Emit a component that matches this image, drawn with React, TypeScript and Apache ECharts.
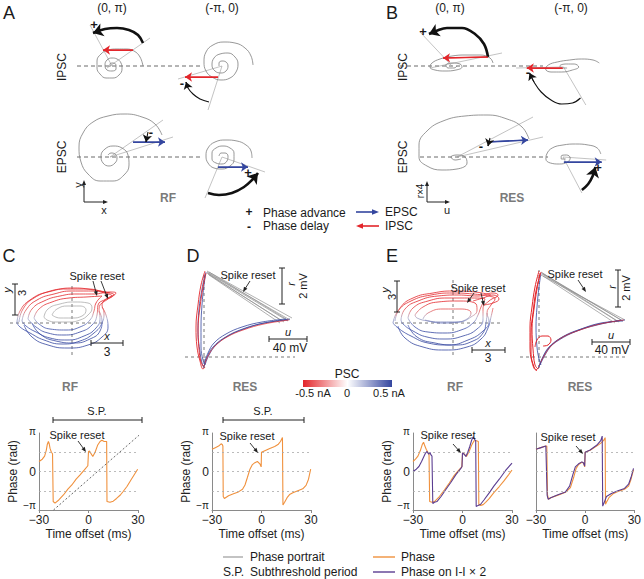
import React, { useEffect, useRef } from "react";
import * as echarts from "echarts";

type P = [number, number];

const FONT = '"Liberation Sans", Arial, Helvetica, sans-serif';
const ORANGE = "#f0913d";
const PURPLE = "#5b3d91";
const RED = "#e3262b";
const BLUE = "#34469f";
const SPIRAL = "#7d7d7d";

// ===== Bottom row: phase (units of π) vs time offset (ms) =====
const TIME_TICKS = [-30, 0, 30];
const GUIDE_LEVELS = [-0.5, 0, 0.5];
const C_PHASE: P[] = [[-30,0.26],[-28,0.32],[-26.6,0.4],[-25.6,0.55],[-25,0.7],[-24.3,0.78],[-23.8,0.72],[-23.3,0.6],[-22.5,0.5],[-21.8,0.46],[-21.4,-0.78],[-20.3,-0.82],[-18,-0.74],[-15.2,-0.61],[-12.5,-0.46],[-10.1,-0.35],[-7.5,-0.2],[-5.1,-0.09],[-2.5,0.04],[-0.4,0.15],[0,0.52],[0.6,0.53],[2.6,0.39],[4,0.5],[5.5,0.68],[7,0.78],[8.1,0.81],[9.5,0.78],[11,0.78],[11.2,-0.78],[13,-0.8],[15,-0.77],[17,-0.7],[19.3,-0.61],[21,-0.52],[23.3,-0.39],[26,-0.2],[29.8,0.06]];
const C_DIAGONAL: P[] = [[-21.2,-1],[32.7,1.02]];
const D_PHASE: P[] = [[-30,0.58],[-28,0.62],[-26,0.66],[-24.5,0.72],[-23.8,0.7],[-23.4,0.66],[-23.2,-0.65],[-22.5,-0.7],[-20,-0.63],[-17,-0.58],[-14,-0.53],[-11.5,-0.46],[-10,-0.35],[-8.5,-0.15],[-7,0.06],[-5.5,0.18],[-4,0.23],[-2.5,0.26],[-1,0.2],[-0.2,0.12],[0,0.5],[2,0.54],[5,0.6],[8,0.65],[10,0.7],[11.5,0.78],[12.7,0.88],[13,-0.87],[14,-0.8],[15.5,-0.68],[17,-0.6],[19,-0.55],[22,-0.5],[25,-0.45],[27,-0.36],[28.5,-0.2],[29.8,0.06]];
const E_RF_PHASE: P[] = [[-30,0.26],[-28.5,0.32],[-27,0.4],[-25.5,0.55],[-24.4,0.7],[-23.6,0.76],[-22.8,0.66],[-22,0.58],[-21,0.5],[-20.3,0.46],[-19.9,-0.78],[-18.5,-0.8],[-17,-0.78],[-14,-0.65],[-11,-0.48],[-8,-0.3],[-5,-0.1],[-2,0.05],[-0.4,0.12],[0,0.48],[1,0.46],[2.4,0.39],[4,0.52],[5.5,0.68],[7,0.8],[8.5,0.8],[9.6,0.78],[9.9,-0.86],[11,-0.88],[12.5,-0.86],[14,-0.8],[16.3,-0.7],[19,-0.55],[22.3,-0.39],[25,-0.25],[28,-0.08],[30,0.04]];
const E_RF_PHASE_2X: P[] = [[-30,0],[-28,0.06],[-26.4,0.13],[-24.8,0.26],[-23.4,0.39],[-22.4,0.48],[-21.5,0.52],[-20.5,0.45],[-19.8,0.5],[-19.1,0.43],[-18.5,0.4],[-18,-0.83],[-17,-0.8],[-15.5,-0.78],[-13,-0.65],[-10,-0.46],[-7,-0.28],[-4,-0.08],[-1,0.08],[-0.3,0.13],[0,0.48],[1,0.45],[2,0.39],[3.2,0.5],[4.4,0.65],[5.6,0.82],[6.4,0.9],[7.4,0.83],[8,0.8],[8.3,-0.91],[9.5,-0.88],[11,-0.85],[13,-0.74],[16.3,-0.55],[19,-0.38],[22.3,-0.2],[26,0.02],[30,0.22]];
const E_RES_PHASE: P[] = [[-30,0.58],[-27,0.62],[-24,0.66],[-23.4,0.66],[-23,-0.6],[-22.4,-0.72],[-21,-0.68],[-17,-0.62],[-12,-0.54],[-9,-0.42],[-7,-0.15],[-5.5,0.08],[-4,0.18],[-2,0.24],[-1,0.22],[-0.3,0.12],[0,0.5],[3,0.55],[7,0.66],[10,0.75],[11.5,0.82],[12.2,0.88],[12.4,-0.85],[13,-0.8],[14.5,-0.68],[17,-0.58],[20,-0.52],[24,-0.46],[26.5,-0.38],[28,-0.2],[29.5,0.05]];
const E_RES_PHASE_2X: P[] = [[-30,0.58],[-27,0.62],[-24,0.66],[-23.6,0.66],[-23.2,-0.62],[-22.6,-0.72],[-21,-0.68],[-17,-0.61],[-12,-0.53],[-9.5,-0.38],[-7.5,-0.08],[-6,0.12],[-4,0.2],[-2,0.25],[-1,0.22],[-0.3,0.14],[0,0.5],[3,0.56],[7,0.68],[9.5,0.8],[10.4,0.92],[10.7,-0.9],[11.5,-0.82],[13,-0.65],[16,-0.57],[20,-0.5],[24,-0.44],[26.5,-0.33],[28,-0.15],[29.5,0.08]];

// ===== Phase portraits (panel units, origin at dashed-line crossing, y up) =====
const C_LOOPS: P[][] = [
  [[-55,0],[-52,12],[-42,23],[-25,31],[-5,34],[15,34],[32,31],[42,28],[36,24],[30,18],[32,10],[30,0],[22,-10],[8,-18],[-10,-21],[-28,-17],[-42,-10],[-52,-4],[-55,0]],
  [[-50,2],[-46,13],[-35,23],[-18,29],[0,32],[20,32],[36,29],[40,27],[32,22],[27,14],[28,5],[24,-5],[12,-13],[-5,-17],[-22,-15],[-36,-9],[-46,-3],[-50,2]],
  [[-44,4],[-40,14],[-28,22],[-12,27],[5,29],[22,29],[38,31],[44,30],[34,24],[26,18],[25,8],[20,-2],[8,-9],[-8,-12],[-24,-10],[-36,-4],[-44,4]],
  [[-38,5],[-33,14],[-20,21],[-3,25],[14,26],[30,27],[24,20],[22,12],[18,3],[8,-4],[-6,-7],[-22,-6],[-33,-1],[-38,5]],
  [[-48,-2],[-40,-14],[-24,-22],[-4,-25],[16,-22],[30,-14],[36,-4],[34,8],[30,16]],
  [[-40,0],[-32,-11],[-16,-18],[2,-20],[18,-16],[28,-8],[30,2],[27,12]],
  [[-53,1],[-49,14],[-38,25],[-20,32],[2,35],[22,33],[38,30]],
];
const C_GRAY_LOOPS: P[][] = [
  [[-28,6],[-24,14],[-12,19],[3,21],[16,20],[20,15],[16,8],[8,3],[-4,1],[-16,1],[-25,3],[-28,6]],
  [[-20,8],[-15,14],[-4,17],[8,17],[14,13],[10,7],[0,5],[-12,5],[-20,8]],
];
const D_LEFT_RED: P[][] = [
  [[1,86],[-3,72],[-6,52],[-8,30],[-7,10],[-4,-4],[-1,-12],[1,-10]],
  [[2,84],[-1,70],[-4,50],[-6,28],[-5,8],[-3,-5],[0,-10]],
];
const D_LEFT_BLUE: P[][] = [
  [[2,85],[0,72],[-2,52],[-3,30],[-3,10],[-1,-3],[1,-8]],
  [[1,83],[-2,68],[-5,48],[-6,25],[-4,5],[-2,-6],[0,-11]],
];
const D_LOWER_BLUE: P[][] = [
  [[0,-10],[3,0],[9,10],[20,19],[36,27],[56,33],[86,38]],
  [[1,-8],[5,2],[12,12],[24,21],[40,28],[60,34],[84,37]],
  [[0,-7],[4,4],[10,14],[22,23],[38,30],[58,35],[82,38]],
];
const D_LOWER_RED: P[][] = [
  [[0,-9],[4,1],[11,11],[23,20],[39,27],[60,33],[85,37]],
];
const D_RESET: P[][] = [
  [[88,39],[3,86]],[[86,37],[3,85]],[[84,36],[4,84]],[[82,38],[5,85]],[[80,35],[4,83]],[[78,36],[3,84]],[[76,34],[5,82]],
];
const E_LOOPS: P[][] = [
  [[-60,0],[-55,12],[-42,22],[-22,28],[0,30],[20,29],[35,27],[42,24],[38,18],[34,10],[36,2],[30,-8],[15,-17],[-5,-22],[-25,-20],[-42,-13],[-55,-5],[-60,0]],
  [[-52,3],[-48,14],[-35,22],[-15,27],[5,28],[25,27],[40,30],[45,28],[36,22],[30,14],[30,4],[24,-6],[10,-13],[-8,-16],[-26,-14],[-40,-8],[-50,-1],[-52,3]],
  [[-45,5],[-40,15],[-25,22],[-5,25],[15,25],[32,24],[28,16],[25,8],[20,0],[8,-7],[-8,-10],[-25,-9],[-38,-4],[-45,5]],
  [[-38,8],[-30,16],[-15,21],[5,22],[22,20],[24,13],[18,6],[6,1],[-10,0],[-25,2],[-36,5],[-38,8]],
  [[-55,-3],[-48,-15],[-30,-24],[-8,-27],[14,-24],[28,-16],[35,-5],[38,6],[40,15]],
  [[-45,-2],[-36,-14],[-18,-20],[2,-22],[20,-18],[30,-10],[33,0],[34,10]],
  [[-30,4],[-25,10],[-10,14],[8,14],[18,10],[14,4],[2,1],[-15,1],[-28,3]],
  [[20,22],[30,25],[40,28],[46,24],[40,20],[30,18]],
  [[-58,2],[-53,15],[-40,25],[-20,30],[0,32],[22,31],[38,28]],
];
const ER_LEFT_RED: P[][] = [
  [[0,86],[-4,70],[-7,50],[-9,30],[-9,10],[-7,-5],[-3,-13],[0,-10]],
  [[1,84],[-2,68],[-5,48],[-7,28],[-6,8],[-4,-8],[-1,-12]],
  [[2,85],[-3,66],[-6,44],[-8,24],[-8,4],[-5,-10],[-2,-14]],
  [[-4,10],[-2,17],[3,21],[9,21],[12,17],[9,12],[4,11]],
];
const ER_LEFT_BLUE: P[][] = [
  [[2,84],[0,70],[-2,50],[-3,30],[-2,10],[0,-2],[2,-8]],
];
const ER_LOWER_BLUE: P[][] = [
  [[0,-10],[4,0],[10,10],[22,19],[40,27],[60,33],[86,37]],
  [[1,-8],[6,2],[13,12],[25,21],[42,28],[62,34],[84,36]],
  [[-1,-12],[3,-2],[9,8],[20,17],[38,26],[58,32],[82,37]],
];
const ER_LOWER_RED: P[][] = [
  [[0,-9],[5,1],[12,11],[24,20],[41,27],[61,33],[85,37]],
];
const ER_RESET: P[][] = [
  [[86,37],[2,82]],[[84,36],[3,84]],[[82,37],[4,83]],[[80,35],[2,85]],[[78,36],[3,83]],[[76,34],[4,81]],
];

// ===== Panels A / B schematics (offsets from the fixed point, y up) =====
const A_IPSC_0PI_SPIRAL: P[] = [[31,0],[28,9],[22,15],[14,17],[5,17],[-4,16],[-11,12],[-15,5],[-15,-2],[-12,-8],[-6,-12],[1,-12],[7,-9],[10,-3],[9,3],[5,7],[0,8],[-5,6],[-7,1],[-5,-4],[0,-5],[4,-3],[4,1],[1,3],[-2,2],[-2,-1]];
const A_IPSC_0PI_RAYS: P[][] = [[[-5,-2],[38,28]],[[0,0],[-22,41]]];
const A_IPSC_0PI_PSC: P[] = [[21,16],[-9,16]];
const A_IPSC_0PI_TURN: P[] = [[31,23],[26,31],[17,36],[5,38],[-7,37],[-19,33]];
const A_IPSC_PI0_SPIRAL: P[] = [[31,1],[29,10],[23,18],[13,23],[2,24],[-9,21],[-16,14],[-18,4],[-16,-5],[-10,-11],[-1,-14],[8,-12],[14,-6],[16,2],[13,9],[6,13],[-2,12],[-8,8],[-10,1],[-7,-5],[-1,-7],[4,-5],[6,0],[4,4],[0,5],[-3,3],[-3,0]];
const A_IPSC_PI0_RAYS: P[][] = [[[0,0],[-44,-13]],[[0,0],[-14,-44]]];
const A_IPSC_PI0_PSC: P[] = [[-4,-11],[-37,-11]];
const A_IPSC_PI0_TURN: P[] = [[-13,-36],[-22,-33],[-29,-28],[-34,-22],[-36,-16]];
const A_EPSC_0PI_SPIRAL: P[] = [[52,22],[45,33],[32,40],[15,43],[-2,41],[-17,35],[-27,24],[-31,10],[-29,-5],[-22,-17],[-10,-24],[3,-24],[14,-18],[19,-8],[18,2],[12,9],[3,11],[-5,8],[-9,1],[-7,-6],[-1,-9],[5,-6],[7,-1],[5,3],[1,4],[-2,2]];
const A_EPSC_0PI_RAYS: P[][] = [[[0,0],[53,37]],[[0,0],[63,20]]];
const A_EPSC_0PI_PSC: P[] = [[23,15],[55,15]];
const A_EPSC_0PI_TURN: P[] = [[38,25],[37,20],[36,15]];
const A_EPSC_PI0_SPIRAL: P[] = [[30,-1],[29,6],[24,12],[15,16],[4,17],[-7,15],[-14,9],[-16,1],[-14,-6],[-8,-11],[0,-12],[8,-9],[12,-3],[12,4],[8,9],[1,11],[-6,9],[-10,4],[-10,-2],[-6,-6],[0,-7],[5,-4],[6,1],[3,4],[-1,4],[-3,1]];
const A_EPSC_PI0_RAYS: P[][] = [[[0,0],[43,-15]],[[0,0],[-17,-41]]];
const A_EPSC_PI0_PSC: P[] = [[-4,-10],[26,-10]];
const A_EPSC_PI0_TURN: P[] = [[-14,-36],[-3,-38],[10,-36],[22,-30],[31,-22],[36,-16]];
const B_IPSC_0PI_SPIRAL: P[] = [[41,3],[38,8],[28,11],[14,11],[0,10],[-12,7],[-20,3],[-22,-1],[-17,-4],[-7,-5],[4,-4],[10,-1],[8,2],[0,3],[-6,1],[-4,-2],[2,-2],[5,0]];
const B_IPSC_0PI_RAYS: P[][] = [[[-22,-2],[50,13]],[[0,0],[-32,34]]];
const B_IPSC_0PI_PSC: P[] = [[36,9],[-9,8]];
const B_IPSC_0PI_TURN: P[] = [[36,9],[32,22],[23,32],[10,38],[-5,38],[-16,35],[-23,32]];
const B_IPSC_PI0_SPIRAL: P[] = [[40,4],[33,7],[20,8],[7,7],[-7,5],[-17,2],[-20,-2],[-14,-5],[-2,-5],[10,-3],[17,0],[12,3],[3,3],[-4,1],[-2,-1],[4,-1]];
const B_IPSC_PI0_RAYS: P[][] = [[[0,0],[25,-38]],[[0,0],[-53,-1]]];
const B_IPSC_PI0_PSC: P[] = [[-1,-1],[-41,-1]];
const B_IPSC_PI0_TURN: P[] = [[19,-31],[10,-36],[-2,-37],[-14,-33],[-25,-25],[-33,-15],[-38,-6]];
const B_EPSC_0PI_SPIRAL: P[] = [[72,18],[65,30],[50,38],[30,42],[8,41],[-14,36],[-30,26],[-38,12],[-38,0],[-30,-9],[-15,-13],[0,-12],[10,-6],[8,0],[0,2],[-6,0],[-2,-3],[4,-2]];
const B_EPSC_0PI_RAYS: P[][] = [[[0,0],[76,40]],[[0,0],[86,20]]];
const B_EPSC_0PI_PSC: P[] = [[30,15],[71,17]];
const B_EPSC_0PI_TURN: P[] = [[33,19],[32,15],[31,11]];
const B_EPSC_PI0_SPIRAL: P[] = [[42,3],[38,9],[28,12],[14,13],[0,12],[-12,9],[-18,3],[-19,-2],[-14,-6],[-4,-7],[5,-5],[8,-1],[4,2],[-2,1],[-2,-2],[3,-2]];
const B_EPSC_PI0_RAYS: P[][] = [[[0,0],[21,-36]],[[0,0],[48,-3]]];
const B_EPSC_PI0_PSC: P[] = [[1,-5],[43,-5]];
const B_EPSC_PI0_TURN: P[] = [[21,-33],[28,-27],[33,-19],[36,-10]];

function buildOption() {
  const grid: any[] = [];
  const xAxis: any[] = [];
  const yAxis: any[] = [];
  const series: any[] = [];
  const visualMap: any[] = [];
  const graphic: any[] = [];

  const hiddenGrid = (left: number, top: number, w: number, h: number, x0: number, x1: number, y0: number, y1: number) => {
    const i = grid.length;
    grid.push({ left, top, width: w, height: h, containLabel: false });
    xAxis.push({ type: "value", gridIndex: i, min: x0, max: x1, show: false });
    yAxis.push({ type: "value", gridIndex: i, min: y0, max: y1, show: false });
    return i;
  };
  const line = (gi: number, data: P[], color: string | null, width = 0.8, o: any = {}) => {
    const lineStyle: any = { width, type: o.dash || "solid" };
    if (color) lineStyle.color = color;
    series.push({
      type: "line", xAxisIndex: gi, yAxisIndex: gi, data, symbol: "none", showSymbol: false,
      silent: true, smooth: o.smooth ?? 0.35, clip: o.clip ?? true,
      lineStyle, z: o.z ?? 2,
    });
    return series.length - 1;
  };
  const head = (gi: number, a: P, b: P, color: string, size: number) => {
    series.push({
      type: "lines", coordinateSystem: "cartesian2d", xAxisIndex: gi, yAxisIndex: gi, silent: true,
      symbol: ["none", "arrow"], symbolSize: size, lineStyle: { color, width: 1, opacity: 1 },
      data: [{ coords: [a, b] }], z: 4,
    });
  };
  const arrowPath = (gi: number, pts: P[], color: string, width: number, size: number) => {
    line(gi, pts, color, width, { smooth: 0.4, z: 3 });
    head(gi, pts[pts.length - 2], pts[pts.length - 1], color, size);
  };

  // ---- schematic panels A/B
  const schematic = (cx: number, cy: number, spiral: P[], rays: P[][], psc: P[], pscColor: string, turn: P[], turnW: number, dash?: P) => {
    const g = hiddenGrid(cx - 90, cy - 55, 180, 110, -90, 90, -55, 55);
    if (dash) line(g, [[dash[0], 0], [dash[1], 0]], "#444", 0.8, { dash: [4, 3], clip: false, smooth: false });
    rays.forEach((r) => line(g, r, "#9a9a9a", 0.6, { smooth: false }));
    line(g, spiral, SPIRAL, 0.8, { smooth: 0.45 });
    arrowPath(g, psc, pscColor, 1.6, 7);
    arrowPath(g, turn, "#111", turnW, turnW > 1.5 ? 10 : 7);
  };
  schematic(112, 66, A_IPSC_0PI_SPIRAL, A_IPSC_0PI_RAYS, A_IPSC_0PI_PSC, RED, A_IPSC_0PI_TURN, 2.6, [-35, 156]);
  schematic(222, 66, A_IPSC_PI0_SPIRAL, A_IPSC_PI0_RAYS, A_IPSC_PI0_PSC, RED, A_IPSC_PI0_TURN, 1.1);
  schematic(110, 157, A_EPSC_0PI_SPIRAL, A_EPSC_0PI_RAYS, A_EPSC_0PI_PSC, BLUE, A_EPSC_0PI_TURN, 1.1, [-33, 158]);
  schematic(222, 157, A_EPSC_PI0_SPIRAL, A_EPSC_PI0_RAYS, A_EPSC_PI0_PSC, BLUE, A_EPSC_PI0_TURN, 2.6);
  schematic(452, 66, B_IPSC_0PI_SPIRAL, B_IPSC_0PI_RAYS, B_IPSC_0PI_PSC, RED, B_IPSC_0PI_TURN, 2.6, [-52, 170]);
  schematic(573, 67, B_IPSC_PI0_SPIRAL, B_IPSC_PI0_RAYS, B_IPSC_PI0_PSC, RED, B_IPSC_PI0_TURN, 1.1);
  schematic(457, 157, B_EPSC_0PI_SPIRAL, B_EPSC_0PI_RAYS, B_EPSC_0PI_PSC, BLUE, B_EPSC_0PI_TURN, 1.1, [-37, 165]);
  schematic(572, 157, B_EPSC_PI0_SPIRAL, B_EPSC_PI0_RAYS, B_EPSC_PI0_PSC, BLUE, B_EPSC_PI0_TURN, 2.6);

  // ---- phase portraits
  const dashCross = (g: number, xr: P, yr: P) => {
    line(g, [[xr[0], 0], [xr[1], 0]], "#555", 0.8, { dash: [3, 3], smooth: false, z: 1 });
    line(g, [[0, yr[0]], [0, yr[1]]], "#555", 0.8, { dash: [3, 3], smooth: false, z: 1 });
  };
  const rfPortrait = (g: number, loops: P[][], grays: P[][]) => {
    const idx: number[] = [];
    grays.forEach((l) => line(g, l, "#a0a0a0", 0.7, { smooth: 0.5 }));
    loops.forEach((l) => idx.push(line(g, l, null, 0.8, { smooth: 0.5 })));
    visualMap.push({
      type: "continuous", show: false, dimension: 1, seriesIndex: idx, min: -10, max: 20,
      inRange: { color: [BLUE, "#4a5cb2", "#a9a9c6", "#e45a5a", RED] },
    });
  };
  // C (RF)
  const gC = hiddenGrid(8, 268, 115, 95, -64, 51, -40, 55);
  dashCross(gC, [-62, 33], [-32, 40]);
  rfPortrait(gC, C_LOOPS, C_GRAY_LOOPS);
  // D (RES)
  const gD = hiddenGrid(176, 262, 124, 112, -28, 96, -17, 95);
  dashCross(gD, [-19, 91], [-11, 85]);
  D_RESET.forEach((l) => line(gD, l, "#8f8f8f", 0.7, { smooth: false }));
  D_LOWER_BLUE.forEach((l) => line(gD, l, BLUE, 0.8, { smooth: 0.4 }));
  D_LOWER_RED.forEach((l) => line(gD, l, RED, 0.7, { smooth: 0.4 }));
  D_LEFT_BLUE.forEach((l) => line(gD, l, BLUE, 0.8, { smooth: 0.4 }));
  D_LEFT_RED.forEach((l) => line(gD, l, RED, 0.9, { smooth: 0.4 }));
  // E (RF)
  const gE1 = hiddenGrid(388, 272, 115, 85, -65, 50, -34, 51);
  dashCross(gE1, [-58, 47], [-32, 45]);
  rfPortrait(gE1, E_LOOPS, []);
  // E (RES)
  const gE2 = hiddenGrid(512, 262, 120, 112, -27, 93, -17, 95);
  dashCross(gE2, [-19, 86], [-11, 87]);
  ER_RESET.forEach((l) => line(gE2, l, "#8f8f8f", 0.7, { smooth: false }));
  ER_LOWER_BLUE.forEach((l) => line(gE2, l, BLUE, 0.8, { smooth: 0.4 }));
  ER_LOWER_RED.forEach((l) => line(gE2, l, RED, 0.7, { smooth: 0.4 }));
  ER_LEFT_BLUE.forEach((l) => line(gE2, l, BLUE, 0.8, { smooth: 0.4 }));
  ER_LEFT_RED.forEach((l) => line(gE2, l, RED, 1, { smooth: 0.4 }));

  // ---- bottom phase plots
  const phasePlot = (left: number, showY: boolean, lines: { data: P[]; color: string; dotted?: boolean }[]) => {
    const i = grid.length;
    grid.push({ left, top: 433, width: 99, height: 77, containLabel: false });
    xAxis.push({
      type: "value", gridIndex: i, min: TIME_TICKS[0], max: TIME_TICKS[TIME_TICKS.length - 1], interval: 30,
      axisLine: { show: true, onZero: false, lineStyle: { color: "#8a8a8a", width: 1 } },
      axisTick: { show: true, length: 3, lineStyle: { color: "#8a8a8a" } },
      splitLine: { show: false },
      axisLabel: { fontSize: 12, color: "#222", fontFamily: FONT, margin: 4,
        formatter: (v: number) => (v < 0 ? "\u2212" + Math.abs(v) : String(v)) },
      name: "Time offset (ms)", nameLocation: "middle", nameGap: 18,
      nameTextStyle: { fontSize: 12, color: "#222", fontFamily: FONT },
    });
    yAxis.push({
      type: "value", gridIndex: i, min: -1, max: 1, interval: 1,
      axisLine: { show: true, onZero: false, lineStyle: { color: "#8a8a8a", width: 1 } },
      axisTick: { show: false }, splitLine: { show: false },
      axisLabel: { show: showY, fontSize: 11, color: "#222", fontFamily: FONT, margin: 3,
        formatter: (v: number) => (v === 1 ? "{s|\u03c0}" : v === -1 ? "{lo|\u2212\u03c0}" : "{z|0}"),
        rich: {
          s: { fontSize: 10, fontFamily: FONT, color: "#222", padding: [0, 0, 4, 0] },
          lo: { fontSize: 10, fontFamily: FONT, color: "#222", padding: [0, 0, 9, 0] },
          z: { fontSize: 12, fontFamily: FONT, color: "#222" },
        } },
      name: showY ? "Phase (rad)" : "", nameLocation: "middle", nameGap: 20,
      nameTextStyle: { fontSize: 12, color: "#222", fontFamily: FONT },
    });
    lines.forEach((l, k) => {
      series.push({
        type: "line", xAxisIndex: i, yAxisIndex: i, data: l.data, symbol: "none", showSymbol: false,
        silent: true, smooth: false, clip: true, z: 3,
        lineStyle: { color: l.color, width: l.dotted ? 0.8 : 1.1, type: l.dotted ? [2, 2] : "solid" },
        markLine: k === 0 ? {
          silent: true, symbol: "none", label: { show: false },
          lineStyle: { type: [2, 3], color: "#aaa", width: 0.8 },
          data: GUIDE_LEVELS.map((v) => ({ yAxis: v })),
        } : undefined,
      });
    });
  };
  phasePlot(39, true, [{ data: C_PHASE, color: ORANGE }, { data: C_DIAGONAL, color: "#444", dotted: true }]);
  phasePlot(212, true, [{ data: D_PHASE, color: ORANGE }]);
  phasePlot(413, true, [{ data: E_RF_PHASE, color: ORANGE }, { data: E_RF_PHASE_2X, color: PURPLE }]);
  phasePlot(536, false, [{ data: E_RES_PHASE, color: ORANGE }, { data: E_RES_PHASE_2X, color: PURPLE }]);

  // ---- annotations (graphic)
  const T = (x: number, y: number, text: string, o: any = {}) =>
    graphic.push({
      type: "text", x, y, rotation: o.rot || 0, z: 100,
      style: {
        text, fill: o.color || "#1a1a1a",
        font: `${o.italic ? "italic " : ""}${o.bold ? "bold " : ""}${o.size || 11}px ${FONT}`,
        textAlign: o.align || "center", textVerticalAlign: "middle",
      },
    });
  const L = (x1: number, y1: number, x2: number, y2: number, color = "#222", w = 1) =>
    graphic.push({ type: "line", z: 100, shape: { x1, y1, x2, y2 }, style: { stroke: color, lineWidth: w } });
  const A = (x1: number, y1: number, x2: number, y2: number, color = "#222", w = 1, hs = 6) => {
    const a = Math.atan2(y2 - y1, x2 - x1);
    const c = Math.cos(a), s = Math.sin(a);
    L(x1, y1, x2 - hs * 0.7 * c, y2 - hs * 0.7 * s, color, w);
    graphic.push({
      type: "polygon", z: 100,
      shape: { points: [[x2, y2], [x2 - hs * c + hs * 0.4 * s, y2 - hs * s - hs * 0.4 * c], [x2 - hs * c - hs * 0.4 * s, y2 - hs * s + hs * 0.4 * c]] },
      style: { fill: color },
    });
  };
  const scaleBarV = (x: number, y1: number, y2: number) => { L(x, y1, x, y2, "#222", 1); L(x - 3, y1, x + 3, y1); L(x - 3, y2, x + 3, y2); };
  const scaleBarH = (x1: number, x2: number, y: number) => { L(x1, y, x2, y, "#222", 1); L(x1, y - 3, x1, y + 3); L(x2, y - 3, x2, y + 3); };
  const R90 = Math.PI / 2;

  // panel letters
  T(9, 13, "A", { size: 18 });
  T(392, 13, "B", { size: 18 });
  T(9, 256, "C", { size: 18 });
  T(193, 256, "D", { size: 18 });
  T(392, 256, "E", { size: 18 });
  // A/B headers
  T(112, 8, "(0, \u03c0)", { size: 12 });
  T(222, 8, "(-\u03c0, 0)", { size: 12 });
  T(450, 8, "(0, \u03c0)", { size: 12 });
  T(571, 8, "(-\u03c0, 0)", { size: 12 });
  T(62, 67, "IPSC", { size: 12, rot: R90 });
  T(62, 157, "EPSC", { size: 12, rot: R90 });
  T(403, 67, "IPSC", { size: 12, rot: R90 });
  T(403, 157, "EPSC", { size: 12, rot: R90 });
  T(94, 24, "+", { size: 13, bold: true });
  T(182, 83, "-", { size: 13, bold: true });
  T(151, 132, "-", { size: 13, bold: true });
  T(248, 172, "+", { size: 13, bold: true });
  T(423, 31, "+", { size: 13, bold: true });
  T(528, 72, "-", { size: 13, bold: true });
  T(481, 146, "-", { size: 13, bold: true });
  T(598, 167, "+", { size: 13, bold: true });
  T(168, 198, "RF", { size: 12, bold: true, color: "#7a7a7a" });
  T(512, 198, "RES", { size: 12, bold: true, color: "#7a7a7a" });
  // axis indicators
  A(84, 202, 84, 180, "#222", 1, 5);
  A(84, 202, 108, 202, "#222", 1, 5);
  T(78, 185, "y", { size: 11, rot: R90 });
  T(104, 210, "x", { size: 11 });
  A(427, 202, 427, 181, "#222", 1, 5);
  A(427, 202, 450, 202, "#222", 1, 5);
  T(420, 191, "r\u00d74", { size: 10, rot: R90 });
  T(447, 210, "u", { size: 11 });
  // legend A/B
  T(249, 212, "+", { size: 12, bold: true });
  T(263, 213, "Phase advance", { size: 12, align: "left" });
  T(249, 227, "-", { size: 12, bold: true });
  T(263, 226, "Phase delay", { size: 12, align: "left" });
  A(356, 212, 379, 212, BLUE, 1.6, 7);
  T(385, 212, "EPSC", { size: 12, align: "left" });
  A(379, 226, 356, 226, RED, 1.6, 7);
  T(385, 226, "IPSC", { size: 12, align: "left" });

  // portrait annotations
  T(97, 276, "Spike reset", { size: 11 });
  A(93, 281, 97, 296, "#222", 0.9, 5);
  A(101, 281, 108, 299, "#222", 0.9, 5);
  scaleBarV(15, 284, 315);
  T(7, 290, "y", { size: 11, italic: true, rot: R90 });
  T(22, 293, "3", { size: 11, rot: R90 });
  scaleBarH(91, 123, 343);
  T(107, 336, "x", { size: 11, italic: true });
  T(107, 352, "3", { size: 12 });
  T(70, 387, "RF", { size: 12, bold: true, color: "#7a7a7a" });

  T(248, 275, "Spike reset", { size: 11 });
  A(250, 281, 243, 292, "#222", 0.9, 5);
  scaleBarV(282, 268, 304);
  T(291, 284, "r", { size: 11, italic: true, rot: R90 });
  T(303, 286, "2 mV", { size: 11, rot: R90 });
  scaleBarH(269, 307, 339);
  T(288, 332, "u", { size: 11, italic: true });
  T(290, 348, "40 mV", { size: 12 });
  T(245, 387, "RES", { size: 12, bold: true, color: "#7a7a7a" });

  T(478, 288, "Spike reset", { size: 11 });
  A(474, 293, 467, 303, "#222", 0.9, 5);
  A(481, 293, 484, 306, "#222", 0.9, 5);
  scaleBarV(397, 281, 312);
  T(385, 290, "y", { size: 11, italic: true, rot: R90 });
  T(392, 297, "3", { size: 11, rot: R90 });
  scaleBarH(472, 505, 350);
  T(488, 343, "x", { size: 11, italic: true });
  T(488, 358, "3", { size: 12 });
  T(455, 387, "RF", { size: 12, bold: true, color: "#7a7a7a" });

  T(575, 274, "Spike reset", { size: 11 });
  A(578, 280, 586, 292, "#222", 0.9, 5);
  scaleBarV(618, 270, 307);
  T(612, 287, "r", { size: 11, italic: true, rot: R90 });
  T(626, 288, "2 mV", { size: 11, rot: R90 });
  scaleBarH(592, 630, 342);
  T(611, 335, "u", { size: 11, italic: true });
  T(612, 350, "40 mV", { size: 12 });
  T(580, 387, "RES", { size: 12, bold: true, color: "#7a7a7a" });

  // colorbar
  T(347, 374, "PSC", { size: 12 });
  graphic.push({
    type: "rect", z: 100, shape: { x: 303, y: 380, width: 89, height: 7 },
    style: { fill: new echarts.graphic.LinearGradient(0, 0, 1, 0, [
      { offset: 0, color: RED }, { offset: 0.5, color: "#ffffff" }, { offset: 1, color: BLUE }]) },
  });
  T(313, 393, "-0.5 nA", { size: 11 });
  T(347, 393, "0", { size: 11 });
  T(389, 393, "0.5 nA", { size: 11 });

  // bottom annotations
  scaleBarH(53, 142, 420);
  T(97, 411, "S.P.", { size: 11 });
  scaleBarH(223, 304, 420);
  T(263, 411, "S.P.", { size: 11 });
  T(77, 435, "Spike reset", { size: 11 });
  A(78, 441, 86, 452, "#222", 0.9, 5);
  T(247, 436, "Spike reset", { size: 11 });
  A(250, 443, 258, 453, "#222", 0.9, 5);
  T(448, 435, "Spike reset", { size: 11 });
  A(453, 444, 461, 453, "#222", 0.9, 5);
  T(568, 437, "Spike reset", { size: 11 });
  A(576, 446, 583, 454, "#222", 0.9, 5);

  // bottom legend
  L(223, 557, 243, 557, "#9a9a9a", 1.2);
  T(250, 557, "Phase portrait", { size: 12, align: "left" });
  T(223, 572, "S.P.", { size: 12, align: "left" });
  T(250, 572, "Subthreshold period", { size: 12, align: "left" });
  L(373, 557, 395, 557, ORANGE, 1.4);
  T(401, 557, "Phase", { size: 12, align: "left" });
  L(373, 572, 395, 572, PURPLE, 1.4);
  T(401, 572, "Phase on I-I \u00d7 2", { size: 12, align: "left" });

  return {
    animation: false,
    backgroundColor: "#ffffff",
    textStyle: { fontFamily: FONT },
    grid, xAxis, yAxis, series, visualMap, graphic,
  };
}

export default function App() {
  const ref = useRef<HTMLDivElement>(null);
  useEffect(() => {
    if (!ref.current) return;
    const chart = echarts.init(ref.current, null, { renderer: "svg" });
    chart.setOption(buildOption() as any);
    return () => chart.dispose();
  }, []);
  return <div ref={ref} style={{ position: "absolute", left: 0, top: 0, width: 644, height: 579 }} />;
}
